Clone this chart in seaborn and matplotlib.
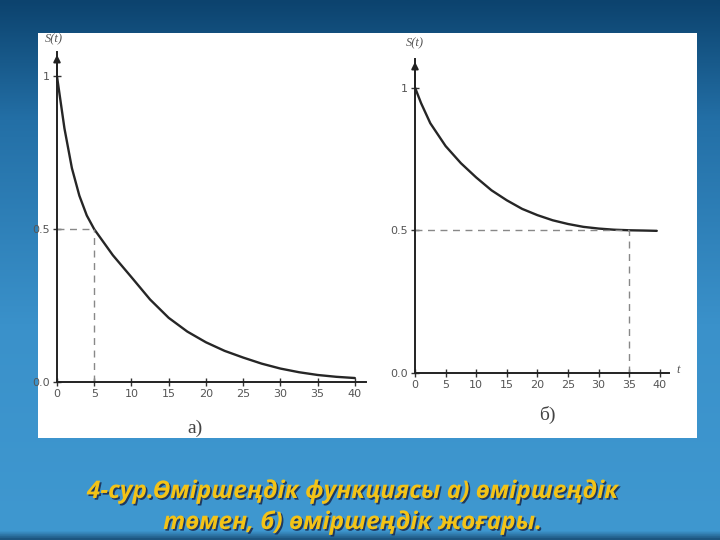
import numpy as np
import matplotlib
matplotlib.use("Agg")
import matplotlib.pyplot as plt
import matplotlib.patheffects as pe
from matplotlib.patches import Rectangle
import seaborn as sns

# a) өміршеңдік төмен
t_left = [0, 1, 2, 3, 4, 5, 7.5, 10, 12.5, 15, 17.5, 20, 22.5, 25, 27.5, 30,
          32.5, 35, 37.5, 40]
s_left = [1.0, 0.83, 0.70, 0.61, 0.545, 0.50, 0.415, 0.343, 0.27, 0.21, 0.165,
          0.13, 0.102, 0.08, 0.06, 0.044, 0.032, 0.023, 0.017, 0.013]

# б) өміршеңдік жоғары
t_right = [0, 1, 2.5, 5, 7.5, 10, 12.5, 15, 17.5, 20, 22.5, 25, 27.5, 30,
           32.5, 35, 37.5, 39.5]
s_right = [1.0, 0.945, 0.875, 0.795, 0.735, 0.685, 0.64, 0.605, 0.575, 0.553,
           0.535, 0.522, 0.512, 0.506, 0.502, 0.50, 0.499, 0.498]

x_ticks = [0, 5, 10, 15, 20, 25, 30, 35, 40]
x_ticklabels = ["0", "5", "10", "15", "20", "25", "30", "35", "40"]
y_ticks = [0, 0.5, 1]
y_ticklabels = ["0.0", "0.5", "1"]

half_level = 0.5
left_half_t = 5
right_half_t = 35

caption_1 = "4-сур.Өміршеңдік функциясы а) өміршеңдік"
caption_2 = "төмен, б) өміршеңдік жоғары."

sns.set_theme(style="white")
plt.rcParams["font.family"] = ["Liberation Sans Narrow", "DejaVu Sans"]

fig = plt.figure(figsize=(7.2, 5.4), dpi=100)

# фон слайда (көк градиент) және ақ панель
bg = fig.add_axes([0, 0, 1, 1], zorder=-5)
grad = np.linspace(0, 1, 256).reshape(-1, 1)
cmap = matplotlib.colors.LinearSegmentedColormap.from_list(
    "slide", [(0.0, "#0c436e"), (0.22, "#236fa6"), (0.6, "#3a91ca"), (0.985, "#3f98d0"), (1.0, "#1d557f")]
)
bg.imshow(grad, aspect="auto", cmap=cmap, extent=[0, 1, 0, 1], origin="upper")
bg.add_patch(Rectangle((38 / 720, 1 - 438 / 540), 659 / 720, 405 / 540,
                       facecolor="white", edgecolor="none", zorder=3))
bg.set_xlim(0, 1)
bg.set_ylim(0, 1)
bg.axis("off")


def draw_panel(ax, t, s, half_t, top):
    sns.lineplot(x=t, y=s, ax=ax, color="#262626", linewidth=1.7)
    ax.set_xlim(0, 41.5)
    ax.set_ylim(0, top)
    ax.patch.set_alpha(0)
    for side in ["top", "right"]:
        ax.spines[side].set_visible(False)
    for side in ["left", "bottom"]:
        ax.spines[side].set_color("#222222")
        ax.spines[side].set_linewidth(1.4)
    ax.set_xticks(x_ticks)
    ax.set_xticklabels(x_ticklabels)
    ax.set_yticks(y_ticks)
    ax.set_yticklabels(y_ticklabels)
    ax.tick_params(axis="both", direction="inout", length=6, width=1,
                   color="#333333", labelsize=8, labelcolor="#555555", pad=2,
                   bottom=True, left=True)
    # пунктир сызықтар
    ax.hlines(half_level, 0, half_t, colors="#888888",
              linestyles=(0, (5, 4)), linewidth=1)
    ax.vlines(half_t, 0, half_level, colors="#888888",
              linestyles=(0, (5, 4)), linewidth=1)
    # y осінің бағыты
    ax.annotate("", xy=(0, 1.0), xycoords="axes fraction",
                xytext=(0, 0.9), textcoords="axes fraction",
                arrowprops=dict(arrowstyle="-|>", color="#222222", lw=1.4,
                                mutation_scale=10))
    ax.set_xlabel("")
    ax.set_ylabel("")


ax1 = fig.add_axes([57 / 720, 1 - 382 / 540, 309 / 720, 330 / 540])
draw_panel(ax1, t_left, s_left, left_half_t, 1.08)
ax1.text(-0.01, 1.04, "S(t)", transform=ax1.transAxes, ha="center", va="center",
         family="Liberation Serif", style="italic", fontsize=9, color="#555555")

ax2 = fig.add_axes([415 / 720, 1 - 373 / 540, 254 / 720, 314 / 540])
draw_panel(ax2, t_right, s_right, right_half_t, 1.10)
ax2.text(0.0, 1.05, "S(t)", transform=ax2.transAxes, ha="center", va="center",
         family="Liberation Serif", style="italic", fontsize=9, color="#555555")
ax2.text(1.03, 0.01, "t", transform=ax2.transAxes, ha="left", va="center",
         family="Liberation Serif", style="italic", fontsize=9, color="#555555")

# суреттердің белгілері
fig.text(195 / 720, 1 - 428 / 540, "а)", ha="center", va="center",
         family="Liberation Serif", fontsize=14, color="#444444", zorder=5)
fig.text(547 / 720, 1 - 415 / 540, "б)", ha="center", va="center",
         family="Liberation Serif", fontsize=14, color="#444444", zorder=5)

# сурет атауы
shadow = [pe.withSimplePatchShadow(offset=(1.2, -1.2), shadow_rgbFace="#1b2f55", alpha=0.9)]
for text, y in [(caption_1, 492), (caption_2, 523)]:
    fig.text(352 / 720, 1 - y / 540, text, ha="center", va="center",
             family=["Open Sans", "DejaVu Sans"], style="italic", weight="bold",
             fontsize=17.5, color="#f3c317", path_effects=shadow, zorder=5)

plt.savefig("out.png", dpi=100)
